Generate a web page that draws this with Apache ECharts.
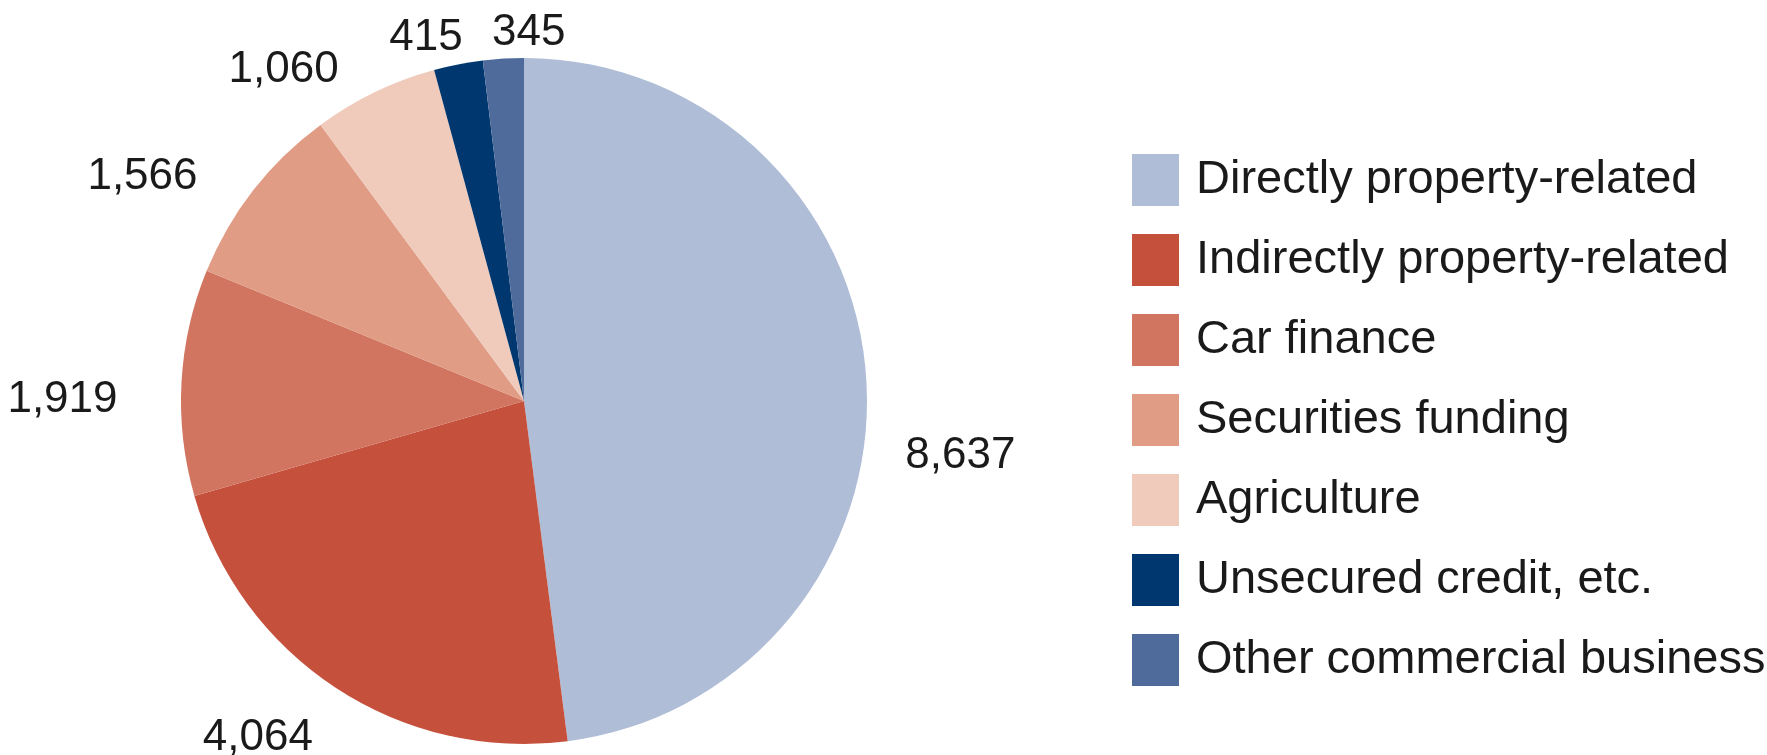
<!DOCTYPE html>
<html>
<head>
<meta charset="utf-8">
<script src="https://cdn.jsdelivr.net/npm/echarts@6/dist/echarts.min.js"></script>
<style>
html,body{margin:0;padding:0;background:#fff;}
#chart{width:1767px;height:755px;}
</style>
</head>
<body>
<div id="chart"></div>
<script>
// categories and values
var categories = ['Directly property-related', 'Indirectly property-related', 'Car finance',
	'Securities funding', 'Agriculture', 'Unsecured credit, etc.', 'Other commercial business'];
var values = [8637, 4064, 1919, 1566, 1060, 415, 345];
var colors = ['#b0bdd7', '#c5503c', '#d17560', '#e09c84', '#f0cbbc', '#00376e', '#4e6b9c'];

// small nudges of the value labels away from echarts' default outside spot
var labelNudge = [[20, 78], [-10, 39], [-45, 18], [-40, -5], [-25, -10], [12, -13], [68, -12]];

var chart = echarts.init(document.getElementById('chart'));

var data = [];
for (var i = 0; i < categories.length; i++) {
	data.push({name: categories[i], value: values[i], itemStyle: {color: colors[i]}});
}

var option = {
	animation: false,
	legend: {
		orient: 'vertical',
		left: 1127,
		top: 149,
		itemWidth: 47,
		itemHeight: 52,
		itemGap: 28,
		icon: 'rect',
		data: categories,
		textStyle: {
			fontFamily: 'Liberation Sans',
			fontSize: 47,
			color: '#1a1a1a',
			padding: [0, 0, 0, 12]
		}
	},
	series: [{
		type: 'pie',
		center: [524, 401],
		radius: 343,
		startAngle: 90,
		clockwise: true,
		avoidLabelOverlap: false,
		data: data,
		label: {
			show: true,
			position: 'outside',
			formatter: function(p) { return p.value.toLocaleString('en-US'); },
			fontFamily: 'Liberation Sans',
			fontSize: 44,
			lineHeight: 40,
			color: '#1a1a1a'
		},
		labelLine: {show: false, length: 14, length2: 0},
		labelLayout: function(p) {
			var n = labelNudge[p.dataIndex];
			return {dx: n[0], dy: n[1]};
		},
		itemStyle: {borderWidth: 0}
	}]
};
chart.setOption(option);
</script>
</body>
</html>
